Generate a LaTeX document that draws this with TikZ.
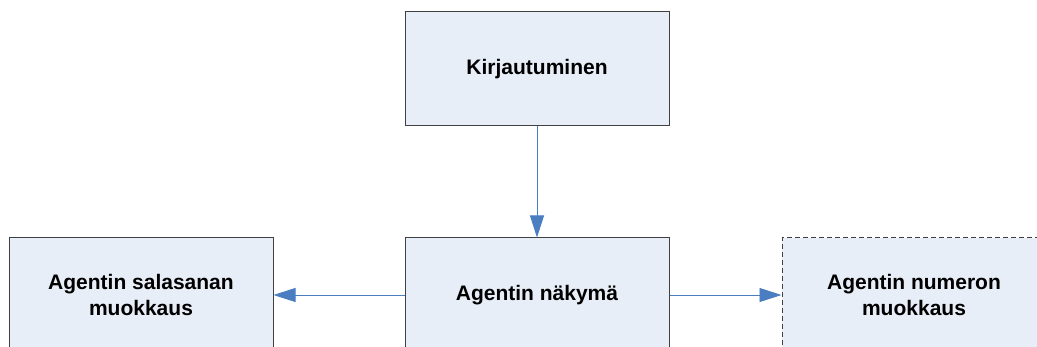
\documentclass[tikz,border=0pt]{standalone}
\usepackage{fontspec}
\setmainfont{Liberation Sans}
\usetikzlibrary{arrows.meta}
\definecolor{boxfill}{RGB}{232,238,247}
\definecolor{boxedge}{RGB}{64,64,64}
\definecolor{arrowblue}{RGB}{74,126,193}
\begin{document}
\begin{tikzpicture}[x=1pt,y=-1pt,
  box/.style={draw=boxedge,fill=boxfill,line width=1pt,minimum width=264pt,minimum height=114pt,inner sep=0pt,align=center,font=\fontsize{21}{26}\selectfont\bfseries},
  conn/.style={draw=arrowblue,line width=0.9pt,-{Triangle[length=22pt,width=14pt]}}]
\useasboundingbox (0,0) rectangle (1037,347);
\clip (0,0) rectangle (1037,347);
\node[box] (login) at (537,69) {Kirjautuminen};
\node[box] (view) at (537,295) {Agentin näkymä};
\node[box] (pass) at (141,295) {Agentin salasanan\\muokkaus};
\node[box,dash pattern=on 5pt off 3pt] (num) at (914,295) {Agentin numeron\\muokkaus};
\draw[conn] (login.south) -- (view.north);
\draw[conn] (view.west) -- (pass.east);
\draw[conn] (view.east) -- (num.west);
\end{tikzpicture}
\end{document}
